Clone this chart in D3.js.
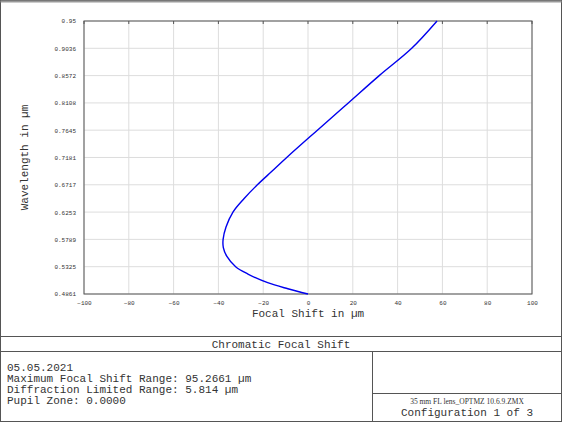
<!DOCTYPE html>
<html>
<head>
<meta charset="utf-8">
<script src="https://cdnjs.cloudflare.com/ajax/libs/d3/7.8.5/d3.min.js"></script>
<style>
  body { margin: 0; background: #fff; }
  text { font-family: "Liberation Mono", monospace; fill: #333; }
</style>
</head>
<body>
<svg width="562" height="422"></svg>
<script>
var wavelength = [0.4861, 0.4950, 0.5053, 0.5200, 0.5325, 0.5500, 0.5650, 0.5789, 0.6000, 0.6253, 0.6480, 0.6717, 0.6950, 0.7181, 0.7645, 0.8108, 0.8572, 0.9036, 0.95];
var focalShift = [0, -9, -18, -26.8, -32.3, -36.2, -37.8, -37.9, -36.6, -33.5, -28.6, -22.6, -16, -9.5, 4.2, 18.0, 31.8, 46.3, 57.6];
var yTicks = [0.4861, 0.5325, 0.5789, 0.6253, 0.6717, 0.7181, 0.7645, 0.8108, 0.8572, 0.9036, 0.95];
var xTicks = [-100, -80, -60, -40, -20, 0, 20, 40, 60, 80, 100];
var infoLines = ["05.05.2021", "Maximum Focal Shift Range: 95.2661 \u00b5m", "Diffraction Limited Range: 5.814 \u00b5m", "Pupil Zone: 0.0000"];

var svg = d3.select("svg");
var L = 84, R = 532, T = 21, B = 294;
var x = d3.scaleLinear().domain([-100, 100]).range([L, R]);
var y = d3.scaleLinear().domain([0.4861, 0.95]).range([B, T]);

// frame
svg.append("rect").attr("x", 0.5).attr("y", 0.5).attr("width", 561).attr("height", 421)
  .attr("fill", "none").attr("stroke", "#555");
svg.append("rect").attr("x", 0.5).attr("y", 0.5).attr("width", 561).attr("height", 2).attr("fill", "#999");

// grid
svg.append("g").selectAll("line").data(xTicks).enter().append("line")
  .attr("x1", d => x(d)).attr("x2", d => x(d)).attr("y1", T).attr("y2", B)
  .attr("stroke", "#ddd");
svg.append("g").selectAll("line").data(yTicks).enter().append("line")
  .attr("x1", L).attr("x2", R).attr("y1", d => y(d)).attr("y2", d => y(d))
  .attr("stroke", "#ddd");

// axes
var xa = svg.append("g").attr("transform", "translate(0," + B + ")")
  .call(d3.axisBottom(x).tickValues(xTicks).tickSize(0).tickPadding(7));
var ya = svg.append("g").attr("transform", "translate(" + L + ",0)")
  .call(d3.axisLeft(y).tickValues(yTicks).tickFormat(d => String(d)).tickSize(0).tickPadding(8));
[xa, ya].forEach(function(a) {
  a.select(".domain").remove();
  a.selectAll("text").style("font-size", "6px").style("font-family", "Liberation Mono").attr("fill", "#333");
});
svg.append("g").selectAll("line").data(xTicks).enter().append("line")
  .attr("x1", d => x(d)).attr("x2", d => x(d)).attr("y1", T).attr("y2", T + 3).attr("stroke", "#555");
svg.append("rect").attr("x", L).attr("y", T).attr("width", R - L).attr("height", B - T)
  .attr("fill", "none").attr("stroke", "#555");

svg.append("text").attr("x", (L + R) / 2).attr("y", 317).attr("text-anchor", "middle")
  .style("font-size", "11px").text("Focal Shift in \u00b5m");
svg.append("text").attr("transform", "translate(28," + ((T + B) / 2) + ") rotate(-90)")
  .attr("text-anchor", "middle").style("font-size", "11px").text("Wavelength in \u00b5m");

// curve
var pts = wavelength.map((w, i) => [focalShift[i], w]);
svg.append("path").datum(pts)
  .attr("d", d3.line().x(d => x(d[0])).y(d => y(d[1])).curve(d3.curveCatmullRom))
  .attr("fill", "none").attr("stroke", "#0000ee").attr("stroke-width", 1.4);

// info boxes
svg.append("line").attr("x1", 0).attr("x2", 562).attr("y1", 336.5).attr("y2", 336.5).attr("stroke", "#555");
svg.append("line").attr("x1", 0).attr("x2", 562).attr("y1", 351.5).attr("y2", 351.5).attr("stroke", "#555");
svg.append("line").attr("x1", 372.5).attr("x2", 372.5).attr("y1", 351.5).attr("y2", 422).attr("stroke", "#555");
svg.append("line").attr("x1", 372.5).attr("x2", 562).attr("y1", 393.5).attr("y2", 393.5).attr("stroke", "#555");
svg.append("text").attr("x", 281).attr("y", 348).attr("text-anchor", "middle")
  .style("font-size", "11px").text("Chromatic Focal Shift");
svg.append("g").selectAll("text").data(infoLines).enter().append("text")
  .attr("x", 7).attr("y", (d, i) => 371 + i * 11).style("font-size", "11px").text(d => d);
svg.append("text").attr("x", 467).attr("y", 404).attr("text-anchor", "middle")
  .style("font-size", "7.5px").style("font-family", "Liberation Sans Narrow, Liberation Serif").text("35 mm FL lens_OPTMZ 10.6.9.ZMX");
svg.append("text").attr("x", 467).attr("y", 416).attr("text-anchor", "middle")
  .style("font-size", "11px").text("Configuration 1 of 3");
</script>
</body>
</html>
